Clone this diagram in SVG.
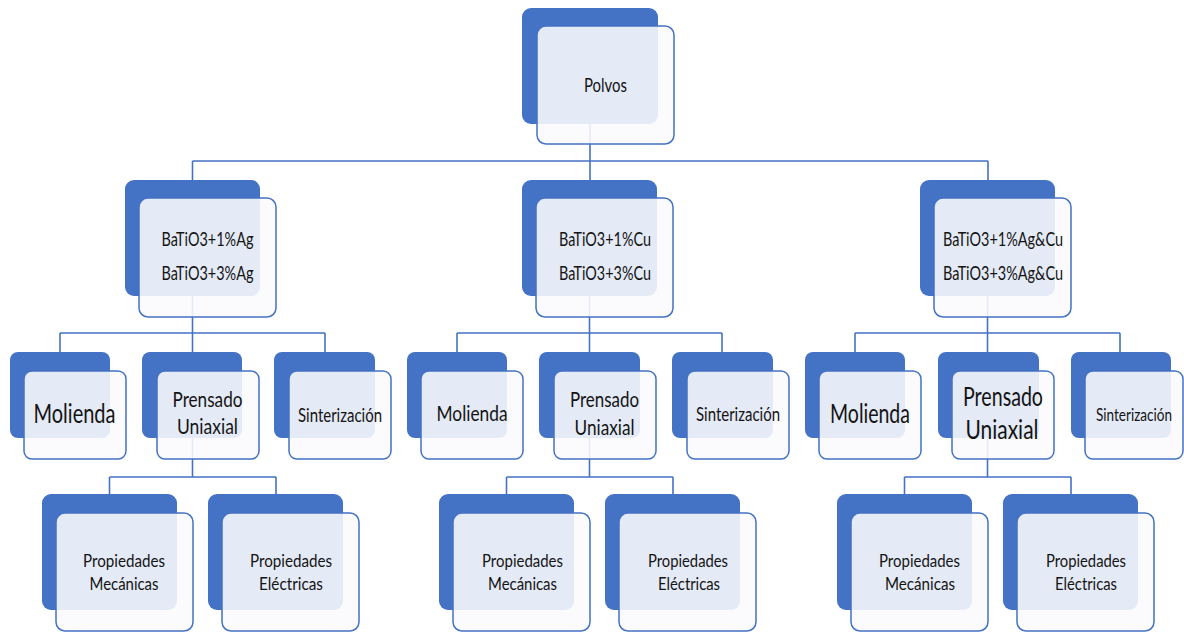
<svg xmlns="http://www.w3.org/2000/svg" width="1184" height="632" viewBox="0 0 1184 632">
  <style>
    .bk{fill:#4472C4}
    .fr{fill:#fbfbfd;fill-opacity:.88;stroke:#4472C4;stroke-width:1.5}
    .cn{fill:none;stroke:#4472C4;stroke-width:1.6}
    text{font-family:Lato,"Open Sans","Liberation Sans",sans-serif;fill:#141414;text-anchor:middle}
  </style>
  <rect width="1184" height="632" fill="#ffffff"/>

  <!-- connectors (drawn first so the translucent cards show them faintly) -->
  <g id="connectors" class="cn">
    <path d="M590 124V161M192.5 161H988M192.5 161V180M590 161V180M988 161V180"/>
    <!-- group: Ag -->
    <path d="M192.5 296V333M60 333H325M60 333V352M192.5 333V352M325 333V352"/>
    <path d="M192.5 438V477M109.5 477H276M109.5 477V494M276 477V494"/>
    <!-- group: Cu -->
    <path d="M589.5 296V333M457 333H722M457 333V352M589.5 333V352M722 333V352"/>
    <path d="M589.5 438V477M506.5 477H673M506.5 477V494M673 477V494"/>
    <!-- group: Ag&Cu -->
    <path d="M987.5 296V333M855 333H1120M855 333V352M987.5 333V352M1120 333V352"/>
    <path d="M987.5 438V477M904.5 477H1071M904.5 477V494M1071 477V494"/>
  </g>

  <!-- root -->
  <g id="polvos">
    <rect class="bk" x="522" y="8" width="136" height="116" rx="9"/>
    <rect class="fr" x="537" y="26" width="137" height="118" rx="9"/>
    <text x="605.5" y="92" font-size="19.5" textLength="43" lengthAdjust="spacingAndGlyphs">Polvos</text>
  </g>

  <!-- second level -->
  <g id="batio3-ag">
    <rect class="bk" x="125" y="180" width="135" height="116" rx="9"/>
    <rect class="fr" x="139" y="198" width="137" height="119" rx="9"/>
    <text x="207.5" y="246" font-size="19" textLength="92" lengthAdjust="spacingAndGlyphs">BaTiO3+1%Ag</text>
    <text x="207.5" y="280" font-size="19" textLength="92" lengthAdjust="spacingAndGlyphs">BaTiO3+3%Ag</text>
  </g>
  <g id="batio3-cu">
    <rect class="bk" x="522" y="180" width="135" height="116" rx="9"/>
    <rect class="fr" x="536" y="198" width="137" height="119" rx="9"/>
    <text x="605" y="246" font-size="19" textLength="92" lengthAdjust="spacingAndGlyphs">BaTiO3+1%Cu</text>
    <text x="605" y="280" font-size="19" textLength="92" lengthAdjust="spacingAndGlyphs">BaTiO3+3%Cu</text>
  </g>
  <g id="batio3-agcu">
    <rect class="bk" x="920" y="180" width="135" height="116" rx="9"/>
    <rect class="fr" x="934" y="198" width="137" height="119" rx="9"/>
    <text x="1003" y="246" font-size="19" textLength="120" lengthAdjust="spacingAndGlyphs">BaTiO3+1%Ag&amp;Cu</text>
    <text x="1003" y="280" font-size="19" textLength="120" lengthAdjust="spacingAndGlyphs">BaTiO3+3%Ag&amp;Cu</text>
  </g>

  <!-- third level: Ag -->
  <g id="molienda-ag">
    <rect class="bk" x="10" y="352" width="100" height="86" rx="8"/>
    <rect class="fr" x="24" y="371" width="102" height="88" rx="8"/>
    <text x="74.5" y="423" font-size="26.5" textLength="82" lengthAdjust="spacingAndGlyphs">Molienda</text>
  </g>
  <g id="prensado-ag">
    <rect class="bk" x="142" y="352" width="100" height="86" rx="8"/>
    <rect class="fr" x="157" y="371" width="102" height="88" rx="8"/>
    <text x="207.5" y="407" font-size="20.5" textLength="70" lengthAdjust="spacingAndGlyphs">Prensado</text>
    <text x="207.5" y="434" font-size="20.5" textLength="61" lengthAdjust="spacingAndGlyphs">Uniaxial</text>
  </g>
  <g id="sinterizacion-ag">
    <rect class="bk" x="274" y="352" width="101" height="86" rx="8"/>
    <rect class="fr" x="289" y="371" width="102" height="88" rx="8"/>
    <text x="340" y="422" font-size="19.5" textLength="84" lengthAdjust="spacingAndGlyphs">Sinterización</text>
  </g>

  <!-- third level: Cu -->
  <g id="molienda-cu">
    <rect class="bk" x="407" y="352" width="100" height="86" rx="8"/>
    <rect class="fr" x="421" y="371" width="102" height="88" rx="8"/>
    <text x="472" y="421" font-size="20.5" textLength="71" lengthAdjust="spacingAndGlyphs">Molienda</text>
  </g>
  <g id="prensado-cu">
    <rect class="bk" x="539" y="352" width="101" height="86" rx="8"/>
    <rect class="fr" x="554" y="371" width="102" height="88" rx="8"/>
    <text x="604.5" y="407" font-size="20.5" textLength="69" lengthAdjust="spacingAndGlyphs">Prensado</text>
    <text x="604.5" y="435" font-size="20.5" textLength="60" lengthAdjust="spacingAndGlyphs">Uniaxial</text>
  </g>
  <g id="sinterizacion-cu">
    <rect class="bk" x="672" y="352" width="101" height="86" rx="8"/>
    <rect class="fr" x="687" y="371" width="102" height="88" rx="8"/>
    <text x="738" y="421" font-size="19.5" textLength="84" lengthAdjust="spacingAndGlyphs">Sinterización</text>
  </g>

  <!-- third level: Ag&Cu -->
  <g id="molienda-agcu">
    <rect class="bk" x="805" y="352" width="100" height="86" rx="8"/>
    <rect class="fr" x="819" y="371" width="102" height="88" rx="8"/>
    <text x="870" y="423" font-size="26.5" textLength="80" lengthAdjust="spacingAndGlyphs">Molienda</text>
  </g>
  <g id="prensado-agcu">
    <rect class="bk" x="938" y="352" width="101" height="86" rx="8"/>
    <rect class="fr" x="952" y="371" width="102" height="88" rx="8"/>
    <text x="1003" y="406" font-size="26.5" textLength="80" lengthAdjust="spacingAndGlyphs">Prensado</text>
    <text x="1002" y="439" font-size="26.5" textLength="73" lengthAdjust="spacingAndGlyphs">Uniaxial</text>
  </g>
  <g id="sinterizacion-agcu">
    <rect class="bk" x="1071" y="352" width="100" height="86" rx="8"/>
    <rect class="fr" x="1085" y="371" width="98" height="88" rx="8"/>
    <text x="1134" y="421" font-size="17.5" textLength="76" lengthAdjust="spacingAndGlyphs">Sinterización</text>
  </g>

  <!-- fourth level: Ag -->
  <g id="mecanicas-ag">
    <rect class="bk" x="42" y="494" width="135" height="116" rx="9"/>
    <rect class="fr" x="56" y="513" width="137" height="118" rx="9"/>
    <text x="124" y="567" font-size="17.5" textLength="82" lengthAdjust="spacingAndGlyphs">Propiedades</text>
    <text x="124" y="590" font-size="17.5" textLength="69" lengthAdjust="spacingAndGlyphs">Mecánicas</text>
  </g>
  <g id="electricas-ag">
    <rect class="bk" x="208" y="494" width="135" height="116" rx="9"/>
    <rect class="fr" x="222" y="513" width="137" height="118" rx="9"/>
    <text x="291" y="567" font-size="17.5" textLength="82" lengthAdjust="spacingAndGlyphs">Propiedades</text>
    <text x="291" y="590" font-size="17.5" textLength="64" lengthAdjust="spacingAndGlyphs">Eléctricas</text>
  </g>

  <!-- fourth level: Cu -->
  <g id="mecanicas-cu">
    <rect class="bk" x="439" y="494" width="135" height="116" rx="9"/>
    <rect class="fr" x="453" y="513" width="137" height="118" rx="9"/>
    <text x="522.5" y="567" font-size="17.5" textLength="81" lengthAdjust="spacingAndGlyphs">Propiedades</text>
    <text x="522.5" y="590" font-size="17.5" textLength="69" lengthAdjust="spacingAndGlyphs">Mecánicas</text>
  </g>
  <g id="electricas-cu">
    <rect class="bk" x="605" y="494" width="135" height="116" rx="9"/>
    <rect class="fr" x="619" y="513" width="137" height="118" rx="9"/>
    <text x="688" y="567" font-size="17.5" textLength="80" lengthAdjust="spacingAndGlyphs">Propiedades</text>
    <text x="689" y="590" font-size="17.5" textLength="62" lengthAdjust="spacingAndGlyphs">Eléctricas</text>
  </g>

  <!-- fourth level: Ag&Cu -->
  <g id="mecanicas-agcu">
    <rect class="bk" x="837" y="494" width="135" height="116" rx="9"/>
    <rect class="fr" x="851" y="513" width="137" height="118" rx="9"/>
    <text x="919.5" y="567" font-size="17.5" textLength="81" lengthAdjust="spacingAndGlyphs">Propiedades</text>
    <text x="920" y="590" font-size="17.5" textLength="70" lengthAdjust="spacingAndGlyphs">Mecánicas</text>
  </g>
  <g id="electricas-agcu">
    <rect class="bk" x="1003" y="494" width="135" height="116" rx="9"/>
    <rect class="fr" x="1017" y="513" width="137" height="118" rx="9"/>
    <text x="1086" y="567" font-size="17.5" textLength="80" lengthAdjust="spacingAndGlyphs">Propiedades</text>
    <text x="1086" y="590" font-size="17.5" textLength="62" lengthAdjust="spacingAndGlyphs">Eléctricas</text>
  </g>
</svg>
